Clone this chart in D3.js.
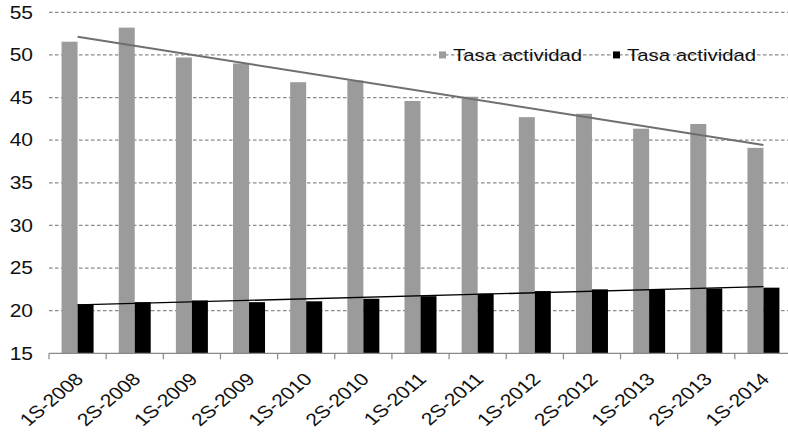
<!DOCTYPE html>
<html>
<head>
<meta charset="utf-8">
<script src="https://cdn.jsdelivr.net/npm/d3@7"></script>
<style>
  body { margin: 0; background: #fff; }
  text { font-family: "Liberation Sans", Arial, sans-serif; fill: #111; }
</style>
</head>
<body>
<svg id="chart"></svg>
<script>
// Chart data
var periods = ["1S-2008", "2S-2008", "1S-2009", "2S-2009", "1S-2010", "2S-2010", "1S-2011",
               "2S-2011", "1S-2012", "2S-2012", "1S-2013", "2S-2013", "1S-2014"],
    grayValues  = [51.55, 53.2, 49.7, 49.0, 46.8, 47.0, 44.6, 45.1, 42.7, 43.1, 41.35, 41.9, 39.1],
    blackValues = [20.75, 21.0, 21.2, 21.0, 21.1, 21.4, 21.7, 22.0, 22.3, 22.5, 22.5, 22.6, 22.7],
    seriesNames = ["Tasa actividad", "Tasa actividad"],
    yTicks = [15, 20, 25, 30, 35, 40, 45, 50, 55];

var w = 788, h = 436,
    plotLeft = 49, plotRight = 792, plotTop = 12.3, plotBottom = 353.3,
    stretch = 1.2;   // text in the picture is a bit wider than normal

var svg = d3.select("#chart").attr("width", w).attr("height", h);

var x = d3.scaleBand().domain(periods).range([plotLeft, plotRight]).paddingInner(0).paddingOuter(0);
var y = d3.scaleLinear().domain([15, 55]).range([plotBottom, plotTop]);
var barW = 16;

// gridlines
svg.append("g").selectAll("line").data(yTicks.slice(1)).enter().append("line")
    .attr("x1", plotLeft).attr("x2", w)
    .attr("y1", function (d) { return y(d); }).attr("y2", function (d) { return y(d); })
    .attr("stroke", "#8a8a8a").attr("stroke-width", 1.2).attr("stroke-dasharray", "3.5,2.5");

// y labels
svg.append("g").selectAll("text").data(yTicks).enter().append("text")
    .attr("text-anchor", "end")
    .attr("transform", function (d) { return "translate(33," + (y(d) + 6.3) + ") scale(" + stretch + ",1)"; })
    .style("font-size", "17.5px")
    .text(function (d) { return d; });

// bars
svg.append("g").selectAll("rect").data(grayValues).enter().append("rect")
    .attr("x", function (d, i) { return x(periods[i]) + x.bandwidth() / 2 - barW; })
    .attr("y", function (d) { return y(d); })
    .attr("width", barW)
    .attr("height", function (d) { return plotBottom - y(d); })
    .attr("fill", "#9b9b9b");

svg.append("g").selectAll("rect").data(blackValues).enter().append("rect")
    .attr("x", function (d, i) { return x(periods[i]) + x.bandwidth() / 2; })
    .attr("y", function (d) { return y(d); })
    .attr("width", barW)
    .attr("height", function (d) { return plotBottom - y(d); })
    .attr("fill", "#000");

// linear trend lines (least squares on the data)
function trend(vals) {
    var n = vals.length, mx = (n - 1) / 2, my = d3.mean(vals), sxy = 0, sxx = 0;
    vals.forEach(function (v, i) { sxy += (i - mx) * (v - my); sxx += (i - mx) * (i - mx); });
    var b = sxy / sxx;
    return [0, n - 1].map(function (i) { return [x(periods[i]) + x.bandwidth() / 2, y(my + b * (i - mx))]; });
}
var line = d3.line();
svg.append("path").attr("d", line(trend(grayValues))).attr("fill", "none")
    .attr("stroke", "#6f6f6f").attr("stroke-width", 2);
svg.append("path").attr("d", line(trend(blackValues))).attr("fill", "none")
    .attr("stroke", "#000").attr("stroke-width", 1.4);

// x axis
svg.append("line").attr("x1", plotLeft).attr("x2", w).attr("y1", plotBottom).attr("y2", plotBottom)
    .attr("stroke", "#888").attr("stroke-width", 1.2);
svg.append("g").selectAll("line").data(periods).enter().append("line")
    .attr("x1", function (d) { return x(d); }).attr("x2", function (d) { return x(d); })
    .attr("y1", plotBottom).attr("y2", plotBottom + 6)
    .attr("stroke", "#888").attr("stroke-width", 1.2);

svg.append("g").selectAll("text").data(periods).enter().append("text")
    .attr("text-anchor", "end")
    .attr("transform", function (d) {
        return "translate(" + (x(d) + x.bandwidth() / 2 + 7) + "," + (plotBottom + 27) + ") scale(" + stretch + ",1) rotate(-45)";
    })
    .style("font-size", "17.5px")
    .text(function (d) { return d; });

// legend
var legX = [439, 613], legColors = ["#9b9b9b", "#000"];
var leg = svg.append("g").selectAll("g").data(seriesNames).enter().append("g")
    .attr("transform", function (d, i) { return "translate(" + legX[i] + "," + y(50) + ")"; });
leg.append("rect").attr("x", 0).attr("y", -3.5).attr("width", 7).attr("height", 7)
    .attr("fill", function (d, i) { return legColors[i]; });
leg.append("text")
    .attr("transform", "translate(14,6) scale(" + stretch + ",1)")
    .style("font-size", "17px")
    .text(function (d) { return d; });
</script>
</body>
</html>
